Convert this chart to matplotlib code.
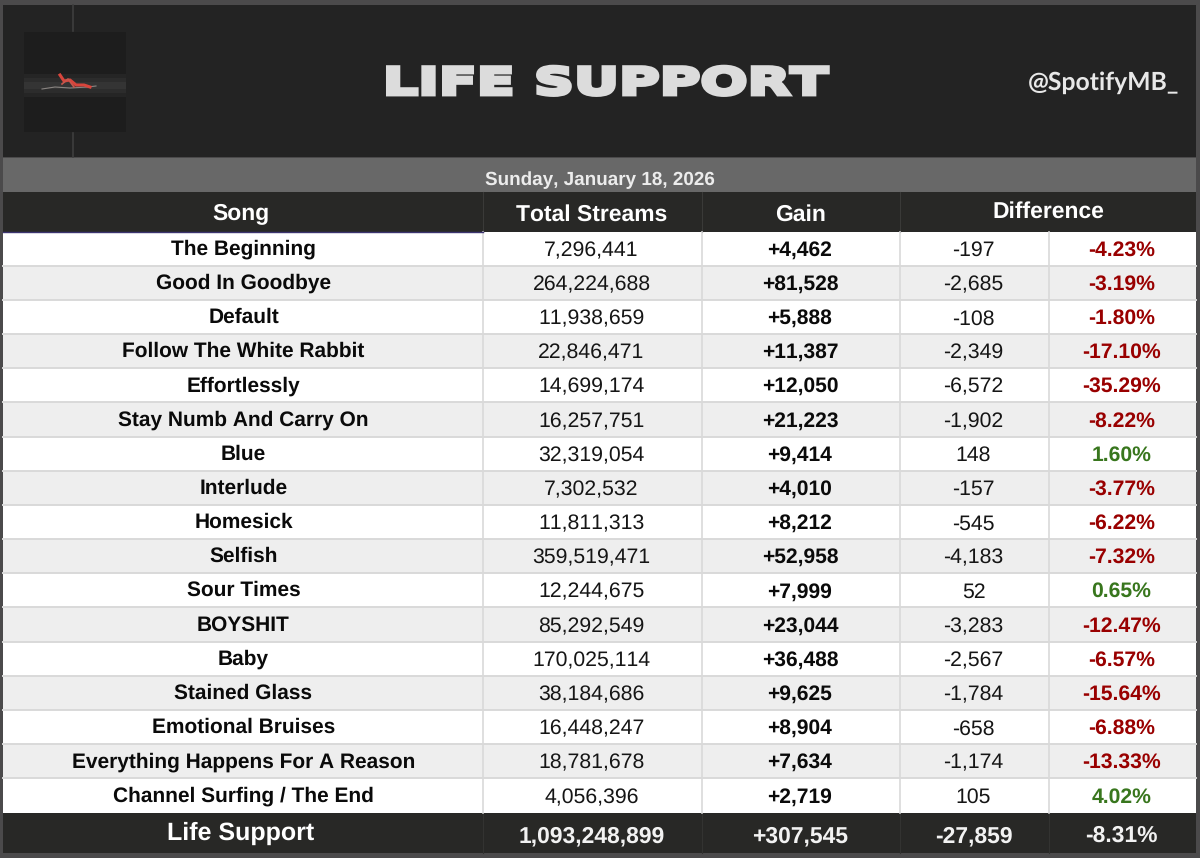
import matplotlib
matplotlib.use("Agg")
import matplotlib.pyplot as plt
from matplotlib.patches import Rectangle
from matplotlib.transforms import Affine2D
import matplotlib.patheffects as pe

songs = ["The Beginning", "Good In Goodbye", "Default", "Follow The White Rabbit", "Effortlessly",
         "Stay Numb And Carry On", "Blue", "Interlude", "Homesick", "Selfish", "Sour Times", "BOYSHIT",
         "Baby", "Stained Glass", "Emotional Bruises", "Everything Happens For A Reason",
         "Channel Surfing / The End"]
total_streams = ["7,296,441", "264,224,688", "11,938,659", "22,846,471", "14,699,174", "16,257,751",
                 "32,319,054", "7,302,532", "11,811,313", "359,519,471", "12,244,675", "85,292,549",
                 "170,025,114", "38,184,686", "16,448,247", "18,781,678", "4,056,396"]
gain = ["+4,462", "+81,528", "+5,888", "+11,387", "+12,050", "+21,223", "+9,414", "+4,010", "+8,212",
        "+52,958", "+7,999", "+23,044", "+36,488", "+9,625", "+8,904", "+7,634", "+2,719"]
diff = ["-197", "-2,685", "-108", "-2,349", "-6,572", "-1,902", "148", "-157", "-545", "-4,183", "52",
        "-3,283", "-2,567", "-1,784", "-658", "-1,174", "105"]
diff_pct = ["-4.23%", "-3.19%", "-1.80%", "-17.10%", "-35.29%", "-8.22%", "1.60%", "-3.77%", "-6.22%",
            "-7.32%", "0.65%", "-12.47%", "-6.57%", "-15.64%", "-6.88%", "-13.33%", "4.02%"]
headers = ["Song", "Total Streams", "Gain", "Difference"]
footer = ["Life Support", "1,093,248,899", "+307,545", "-27,859", "-8.31%"]
title = "LIFE SUPPORT"
handle = "@SpotifyMB_"
date_label = "Sunday, January 18, 2026"

plt.rcParams["font.family"] = ["Liberation Sans", "DejaVu Sans"]
plt.rcParams["text.hinting"] = "no_hinting"
plt.rcParams["text.kerning_factor"] = 6
fig = plt.figure(figsize=(12, 8.58), dpi=100, facecolor="#4b4a4b")
ax = fig.add_axes([0, 0, 1, 1])
ax.set_xlim(0, 1200)
ax.set_ylim(858, 0)
ax.axis("off")

L, R = 3, 1196
edges = [L, 483, 702, 900, 1049, R]
centers = [243.5, 591.5, 800, 973.5, 1121.5]
T0, T1 = 231.5, 812.5
rh = (T1 - T0) / len(songs)
DARK = "#282826"
GRID = "#d9d9d9"


class WideText(pe.AbstractPathEffect):
    """Widen real text about a display x, with an outline to thicken the strokes."""

    def __init__(self, cx, sx, lw, color):
        super().__init__()
        self.cx, self.sx, self.lw, self.color = cx, sx, lw, color

    def draw_path(self, renderer, gc, tpath, affine, rgbFace=None):
        aff = affine + Affine2D().translate(-self.cx, 0).scale(self.sx, 1).translate(self.cx, 0)
        gc0 = renderer.new_gc()
        gc0.copy_properties(gc)
        gc0.set_foreground(self.color)
        gc0.set_linewidth(self.lw)
        gc0.set_joinstyle("miter")
        renderer.draw_path(gc0, tpath, aff, rgbFace)
        gc0.restore()


def rect(x0, y0, x1, y1, c, z=1):
    ax.add_patch(Rectangle((x0, y0), x1 - x0, y1 - y0, fc=c, ec="none", zorder=z))


# banner
rect(L, 5, R, 157, "#232323")
rect(L, 158, R, 192, "#686868")
rect(L, 192, R, T0, DARK)
rect(L, T1, R, 853, DARK)

# album art
rect(24, 32, 126, 132, "#1d1d1d", 2)
rect(24, 74, 126, 97, "#252525", 2)
rect(24, 78, 126, 93, "#2c2c2c", 2)
rect(24, 82, 126, 89, "#343434", 2)
ax.plot([73, 73], [5, 31], color="#3e3e3e", lw=1.2, zorder=2)
ax.plot([73, 73], [133, 157], color="#3e3e3e", lw=1.2, zorder=2)
ax.plot([42, 55, 70, 88, 96], [89, 87, 88, 87, 86], color="#8a8582", lw=0.8, zorder=3)
ax.plot([60, 64, 70, 76, 84, 90], [75, 81, 80, 85, 85, 87], color="#d8453c", lw=2.2, zorder=4)
ax.plot([62, 68, 74], [84, 79, 87], color="#c9564c", lw=1.2, zorder=4)

ax.text(605.5, 84, title, ha="center", va="center", color="#dcdcdc", fontsize=27,
        family="DejaVu Sans", fontweight="bold", zorder=5,
        path_effects=[WideText(605.5, 1.48, 2.8, "#dcdcdc")])
ax.text(1104, 90, handle, ha="center", va="baseline", color="#e8e8e8", fontsize=17.8,
        family="Lato", fontweight="bold", zorder=5)
ax.text(600, 180.5, date_label, ha="center", va="center", color="#ececec", fontsize=13.6, fontweight="bold")

# header
ax.text(centers[0] - 3, 213, headers[0], ha="center", va="center", color="white", fontsize=16.5, fontweight="bold")
ax.text(centers[1], 215, headers[1], ha="center", va="center", color="white", fontsize=16.5, fontweight="bold")
ax.text(centers[2], 215, headers[2], ha="center", va="center", color="white", fontsize=16.5, fontweight="bold")
ax.text(1048, 211.5, headers[3], ha="center", va="center", color="white", fontsize=16.5, fontweight="bold")
for x in edges[1:4]:
    ax.plot([x, x], [192, T0], color="#3a3a38", lw=0.8, zorder=2)
for x in edges[1:5]:
    ax.plot([x, x], [T1, 853], color="#333331", lw=0.8, zorder=2)
ax.plot([L, edges[1]], [T0, T0], color="#3c3470", lw=1, zorder=3)

# body
for i, song in enumerate(songs):
    y0 = T0 + i * rh
    rect(L, y0, R, y0 + rh, "white" if i % 2 == 0 else "#eeeeee")
    yc = y0 + rh / 2
    ax.text(centers[0], yc + 0.5, song, ha="center", va="center", color="#0a0a0a", fontsize=15, fontweight="bold", zorder=4)
    ax.text(centers[1], yc + 2, total_streams[i], ha="center", va="center", color="#151515", fontsize=15.35, zorder=4)
    ax.text(centers[2], yc + 1.5, gain[i], ha="center", va="center", color="#0a0a0a", fontsize=15.1, fontweight="bold", zorder=4)
    ax.text(centers[3], yc + 2, diff[i], ha="center", va="center", color="#151515", fontsize=15.35, zorder=4)
    col = "#38761d" if not diff_pct[i].startswith("-") else "#990000"
    ax.text(centers[4], yc + 1.5, diff_pct[i], ha="center", va="center", color=col, fontsize=15.2, fontweight="bold", zorder=4)
    if i > 0:
        ax.plot([L, R], [y0, y0], color=GRID, lw=1.4, zorder=2)
for x in edges[1:5]:
    ax.plot([x, x], [T0, T1], color=GRID, lw=1.2, zorder=2)

# footer
ax.text(centers[0] - 3, 833.5, footer[0], ha="center", va="center", color="white", fontsize=18, fontweight="bold", zorder=4)
for c, t in zip(centers[1:], footer[1:]):
    ax.text(c, 836, t, ha="center", va="center", color="#f2f2f2", fontsize=16.5, fontweight="bold", zorder=4)

fig.savefig("out.png", dpi=100, facecolor=fig.get_facecolor())
